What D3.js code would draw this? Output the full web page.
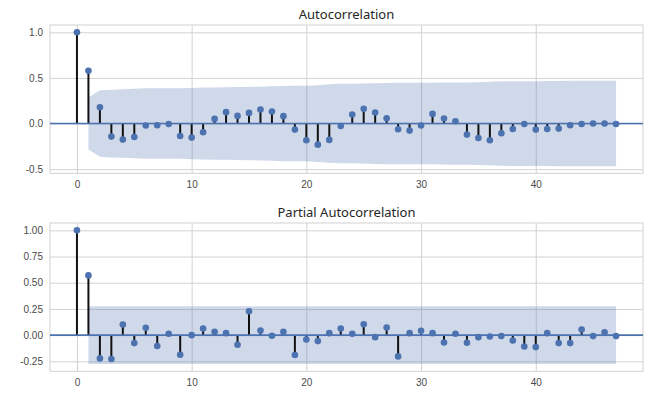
<!DOCTYPE html>
<html>
<head>
<meta charset="utf-8">
<script src="https://cdn.jsdelivr.net/npm/d3@7"></script>
<style>
  body { margin: 0; background: #fff; }
  svg { display: block; font-family: "Noto Sans", "DejaVu Sans", sans-serif; }
</style>
</head>
<body>
<script>
// values (lags 0..47)
var lags = d3.range(0, 48);

var acfValues = [1.0, 0.579, 0.179, -0.143, -0.176, -0.147, -0.022, -0.018, -0.004, -0.136,
  -0.154, -0.095, 0.051, 0.125, 0.084, 0.117, 0.154, 0.132, 0.081, -0.066,
  -0.183, -0.231, -0.179, -0.026, 0.099, 0.161, 0.121, 0.059, -0.062, -0.077,
  -0.022, 0.106, 0.055, 0.026, -0.121, -0.158, -0.183, -0.106, -0.059, -0.004,
  -0.066, -0.059, -0.055, -0.018, -0.004, 0.0, 0.0, -0.004];

// half width of the shaded confidence band, lags 1..47
var acfBand = [0.285, 0.365, 0.371, 0.375, 0.381, 0.386, 0.386, 0.386, 0.386, 0.390,
  0.394, 0.396, 0.397, 0.400, 0.401, 0.404, 0.408, 0.412, 0.413, 0.414,
  0.420, 0.430, 0.436, 0.436, 0.438, 0.442, 0.445, 0.446, 0.446, 0.447,
  0.447, 0.449, 0.450, 0.450, 0.453, 0.457, 0.463, 0.465, 0.465, 0.465,
  0.466, 0.467, 0.468, 0.468, 0.468, 0.468, 0.468];

var pacfValues = [1.0, 0.57, -0.222, -0.228, 0.101, -0.076, 0.070, -0.104, 0.013, -0.187,
  0.0, 0.063, 0.032, 0.019, -0.092, 0.228, 0.044, -0.006, 0.032, -0.190,
  -0.041, -0.057, 0.019, 0.063, 0.013, 0.104, -0.019, 0.073, -0.203, 0.019,
  0.041, 0.019, -0.070, 0.013, -0.073, -0.019, -0.013, -0.009, -0.051, -0.108,
  -0.114, 0.019, -0.076, -0.076, 0.054, -0.009, 0.028, -0.009];

var pacfBand = 0.275;

var xTicks = [0, 10, 20, 30, 40];
var acfTicks = [-0.5, 0.0, 0.5, 1.0];
var pacfTicks = [-0.25, 0.0, 0.25, 0.5, 0.75, 1.0];

var W = 665, H = 398;
var blue = "#4c72b0";

var svg = d3.select("body").append("svg")
  .attr("width", W)
  .attr("height", H);

var x = d3.scaleLinear().domain([-2.35, 49.35]).range([50, 643]);

function panel(top, bottom, yDomain, yTicks, decimals, values, band, title) {
  var y = d3.scaleLinear().domain(yDomain).range([bottom, top]);
  var g = svg.append("g");
  var left = x.range()[0], right = x.range()[1];

  // grid + tick labels
  var xAxis = g.append("g")
    .attr("transform", "translate(0," + bottom + ")")
    .call(d3.axisBottom(x).tickValues(xTicks).tickSizeInner(-(bottom - top)).tickSizeOuter(0).tickPadding(8)
      .tickFormat(function(d) { return d; }));
  var yAxis = g.append("g")
    .attr("transform", "translate(" + left + ",0)")
    .call(d3.axisLeft(y).tickValues(yTicks).tickSizeInner(-(right - left)).tickSizeOuter(0).tickPadding(7)
      .tickFormat(function(d) { return d.toFixed(decimals); }));
  [xAxis, yAxis].forEach(function(a) {
    a.select(".domain").remove();
    a.selectAll(".tick line").attr("stroke", "#d2d2d2").attr("stroke-width", 1);
    a.selectAll(".tick text").attr("fill", "#4a4a4a").style("font-size", "10px");
  });

  g.append("rect")
    .attr("x", left).attr("y", top)
    .attr("width", right - left).attr("height", bottom - top)
    .attr("fill", "none").attr("stroke", "#d2d2d2").attr("stroke-width", 1);

  // confidence band
  var bandLags = lags.slice(1);
  var area = d3.area()
    .x(function(d) { return x(d); })
    .y0(function(d, i) { return y(-(Array.isArray(band) ? band[i] : band)); })
    .y1(function(d, i) { return y(Array.isArray(band) ? band[i] : band); });
  g.append("path")
    .datum(bandLags)
    .attr("d", area)
    .attr("fill", blue)
    .attr("fill-opacity", 0.27);

  // stems
  g.selectAll(".stem").data(values).enter().append("line")
    .attr("class", "stem")
    .attr("x1", function(d, i) { return x(lags[i]); })
    .attr("x2", function(d, i) { return x(lags[i]); })
    .attr("y1", y(0))
    .attr("y2", function(d) { return y(d); })
    .attr("stroke", "#111")
    .attr("stroke-width", 2);

  // zero line
  g.append("line")
    .attr("x1", left).attr("x2", right)
    .attr("y1", y(0)).attr("y2", y(0))
    .attr("stroke", blue).attr("stroke-width", 1.6);

  // markers
  g.selectAll(".dot").data(values).enter().append("circle")
    .attr("class", "dot")
    .attr("cx", function(d, i) { return x(lags[i]); })
    .attr("cy", function(d) { return y(d); })
    .attr("r", 3.3)
    .attr("fill", blue);

  g.append("text")
    .attr("x", (left + right) / 2)
    .attr("y", top - 6.5)
    .attr("text-anchor", "middle")
    .attr("fill", "#262626")
    .style("font-size", "13px")
    .text(title);
}

panel(25, 173.3, [-0.545, 1.08], acfTicks, 1, acfValues, acfBand, "Autocorrelation");
panel(223, 371.3, [-0.345, 1.07], pacfTicks, 2, pacfValues, pacfBand, "Partial Autocorrelation");
</script>
</body>
</html>
